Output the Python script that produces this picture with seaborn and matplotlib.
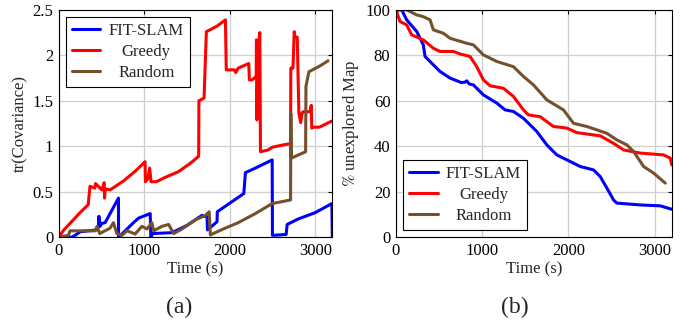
import numpy as np
import pandas as pd
from matplotlib import pyplot as plt
import seaborn as sns

sns.set_style('whitegrid')
plt.rcParams['font.family'] = ['Liberation Serif', 'DejaVu Serif']
plt.rcParams['mathtext.fontset'] = 'stix'

# (a) trace of covariance over time
fit_cov_t = [0, 150, 191, 250, 445, 464, 470, 484, 500, 543, 699, 700, 777, 875, 934, 1070, 1078, 1100,
             1325, 1500, 1676, 1700, 1735, 1740, 1852, 1855, 2165, 2184, 2300, 2497, 2500, 2660, 2672,
             2800, 3000, 3195, 3200]
fit_cov = [0, 0, 0.02, 0.06, 0.08, 0.12, 0.23, 0.12, 0.15, 0.16, 0.43, 0.0, 0.07, 0.16, 0.21, 0.26, 0.0, 0.04,
           0.05, 0.13, 0.24, 0.23, 0.23, 0.08, 0.17, 0.28, 0.48, 0.71, 0.76, 0.85, 0.02, 0.03, 0.14,
           0.2, 0.27, 0.37, 0.0]

greedy_cov_t = [0, 60, 150, 250, 347, 350, 366, 422, 430, 505, 532, 536, 545, 601, 760, 900, 1010, 1014,
                1040, 1064, 1080, 1142, 1250, 1400, 1550, 1637, 1640, 1700, 1727, 1850, 1950, 1960,
                2060, 2070, 2100, 2223, 2230, 2262, 2300, 2310, 2313, 2318, 2330, 2345, 2352, 2360,
                2450, 2500, 2600, 2712, 2715, 2740, 2755, 2762, 2790, 2809, 2830, 2848, 2860, 2940,
                2954, 2960, 2977, 3050, 3200]
greedy_cov = [0, 0.08, 0.17, 0.27, 0.36, 0.41, 0.56, 0.54, 0.59, 0.52, 0.6, 0.43, 0.53, 0.52, 0.62, 0.73, 0.83, 0.61,
              0.64, 0.76, 0.61, 0.61, 0.66, 0.72, 0.82, 0.89, 1.50, 1.53, 2.26, 2.32, 2.39, 1.84,
              1.84, 1.81, 1.86, 1.91, 1.73, 1.73, 1.76, 1.76, 2.17, 1.29, 2.0, 2.18, 2.25, 0.94,
              0.96, 0.99, 1.01, 1.03, 1.86, 1.86, 2.26, 2.2, 2.2, 1.37, 1.26, 1.37, 1.38, 1.38,
              1.45, 1.2, 1.21, 1.21, 1.28]

random_cov_t = [0, 113, 132, 425, 450, 480, 601, 640, 680, 738, 800, 894, 973, 1032, 1090, 1110, 1208,
                1286, 1345, 1442, 1598, 1716, 1760, 1774, 1900, 2100, 2300, 2497, 2712, 2715, 2722,
                2888, 2892, 2927, 3050, 3150]
random_cov = [0, 0.02, 0.07, 0.07, 0.12, 0.04, 0.1, 0.16, 0.04, 0.02, 0.07, 0.035, 0.12, 0.09, 0.16, 0.07, 0.12,
              0.14, 0.04, 0.09, 0.19, 0.24, 0.28, 0.025, 0.08, 0.16, 0.26, 0.37, 0.41, 1.36, 0.87,
              0.94, 1.66, 1.82, 1.88, 1.94]

# (b) percentage of unexplored map over time
fit_map_t = [0, 66, 124, 240, 317, 337, 434, 511, 627, 760, 800, 821, 850, 898, 1014, 1169, 1266, 1363, 1479,
             1634, 1750, 1866, 2021, 2137, 2292, 2369, 2447, 2524, 2563, 2834, 3066, 3200]
fit_map = [100, 100, 95.6, 90.5, 84.6, 79.5, 75.8, 72.9, 70, 68, 68.2, 68.8, 67.4, 67, 62.6, 59, 56, 55.3, 52.3,
           46.5, 40.6, 36.2, 33.3, 31.1, 29.6, 26.7, 21.6, 16.4, 15, 14.2, 13.8, 12.3]

greedy_map_t = [0, 46, 124, 182, 317, 434, 511, 666, 743, 859, 937, 1014, 1092, 1247, 1363, 1479, 1537, 1673,
                1827, 1982, 2098, 2369, 2524, 2640, 2834, 3105, 3182, 3200]
greedy_map = [100, 94.9, 93.4, 89, 86.8, 83.1, 81.7, 81.7, 80.6, 79.5, 75, 69.2, 66.6, 65.5, 61.9, 56, 53.8, 53,
              48.7, 48, 46, 44.6, 41.3, 38.4, 37, 36.2, 34.8, 31.8]

random_map_t = [0, 124, 240, 317, 395, 434, 550, 627, 821, 898, 1014, 1169, 1363, 1479, 1595, 1750, 1943,
                2060, 2214, 2331, 2447, 2563, 2679, 2757, 2873, 2989, 3124]
random_map = [100, 100, 97.8, 97, 95.6, 91.2, 89.7, 87.5, 85.3, 84.6, 80.2, 77.3, 75, 70.7, 67, 60.4, 56,
              50.1, 48.7, 47.2, 45.7, 42.8, 40.6, 37.7, 31.1, 28.2, 23.8]

methods = ['FIT-SLAM', 'Greedy', 'Random']
colors = {'FIT-SLAM': '#0000ff', 'Greedy': '#ff0000', 'Random': '#74502d'}

cov_series = {'FIT-SLAM': (fit_cov_t, fit_cov), 'Greedy': (greedy_cov_t, greedy_cov),
              'Random': (random_cov_t, random_cov)}
map_series = {'FIT-SLAM': (fit_map_t, fit_map), 'Greedy': (greedy_map_t, greedy_map),
              'Random': (random_map_t, random_map)}

FS = 12

fig = plt.figure(figsize=(6.94, 3.29), dpi=100)
ax1 = fig.add_axes([0.0846, 0.279, 0.3942, 0.691])
ax2 = fig.add_axes([0.5706, 0.279, 0.3974, 0.691])

for ax, series in [(ax1, cov_series), (ax2, map_series)]:
    for m in methods:
        t, v = series[m]
        df = pd.DataFrame({'t': t, 'v': v})
        sns.lineplot(data=df, x='t', y='v', ax=ax, color=colors[m], lw=2.2,
                     estimator=None, sort=False, label=m)
    ax.set_xlim(0, 3200)
    ax.set_xticks([0, 1000, 2000, 3000])
    ax.grid(True, color='#cfcfcf', lw=0.9)
    ax.tick_params(direction='in', length=3, labelsize=FS, top=True, right=True,
                   colors='black', pad=4)
    for s in ax.spines.values():
        s.set_color('black')
        s.set_linewidth(0.8)
    ax.set_xlabel('Time (s)', fontsize=FS, labelpad=2)

ax1.set_ylim(0, 2.5)
ax1.set_yticks([0, 0.5, 1, 1.5, 2, 2.5])
ax1.set_yticklabels(['0', '0.5', '1', '1.5', '2', '2.5'])
ax1.set_ylabel('tr(Covariance)', fontsize=FS, labelpad=3)

ax2.set_ylim(0, 100)
ax2.set_yticks([0, 20, 40, 60, 80, 100])
ax2.set_ylabel(r'$\%$ unexplored Map', fontsize=FS, labelpad=3)

legends = []
for ax, loc in [(ax1, 'upper left'), (ax2, 'lower left')]:
    leg = ax.legend(loc=loc, fontsize=FS, frameon=True, fancybox=False, edgecolor='black',
                    handlelength=1.7, handletextpad=0.5, borderpad=0.35, labelspacing=0.3,
                    borderaxespad=0.45, framealpha=1)
    leg.get_frame().set_linewidth(0.8)
    legends.append(leg)

# centre the legend labels like the original
fig.canvas.draw()
for leg in legends:
    texts = leg.get_texts()
    widths = [t.get_window_extent().width for t in texts]
    wmax = max(widths)
    for t, w in zip(texts, widths):
        t.set_x((wmax - w) / 2)

fig.text(0.258, 0.064, '(a)', ha='center', va='center', fontsize=17)
fig.text(0.742, 0.064, '(b)', ha='center', va='center', fontsize=17)

fig.savefig('out.png', dpi=100)
